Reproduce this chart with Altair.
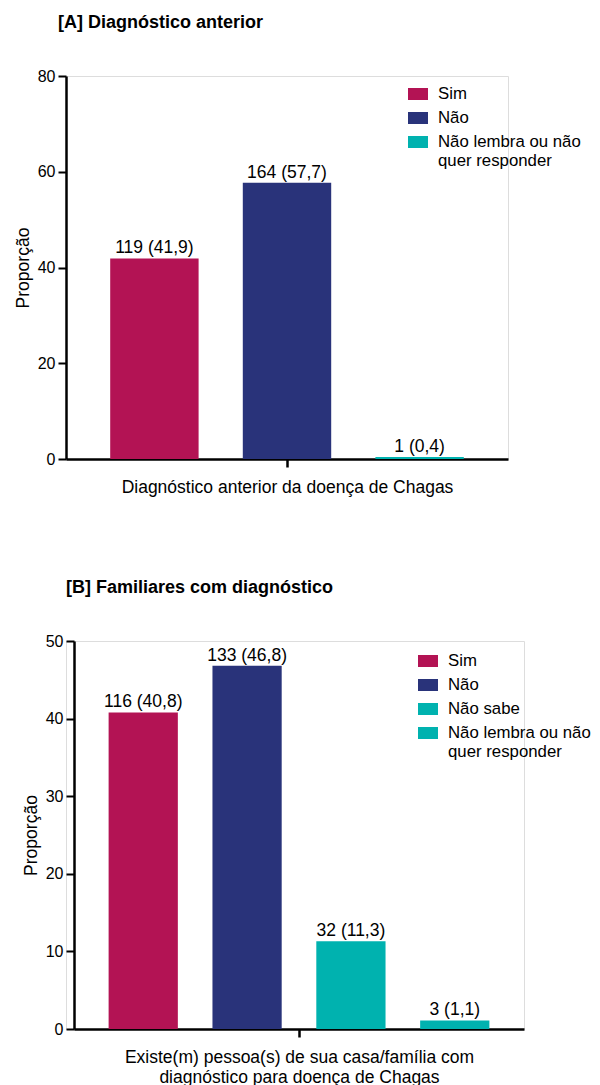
import altair as alt
import pandas as pd

FONT = "Liberation Sans"

# Panel A data
a_cats = ["Sim", "Não", "Não lembra ou não quer responder"]
a_values = [41.9, 57.7, 0.4]
a_labels = ["119 (41,9)", "164 (57,7)", "1 (0,4)"]
a_colors = ["#B31354", "#29337A", "#00B2AF"]

# Panel B data
b_cats = ["Sim", "Não", "Não sabe", "Não lembra ou não quer responder "]
b_values = [40.8, 46.8, 11.3, 1.1]
b_labels = ["116 (40,8)", "133 (46,8)", "32 (11,3)", "3 (1,1)"]
b_colors = ["#B31354", "#29337A", "#00B2AF", "#00B2AF"]

label_expr = ("indexof(datum.label, 'Não lembra') == 0 ? "
              "['Não lembra ou não', 'quer responder'] : datum.label")

SWATCH = "M-1,-0.6H1V0.6H-1Z"


def panel(title, cats, values, labels, colors, width, height, ymax, ystep,
          xtitle, leg_x, leg_y, x_range=None, y_offset=0, title_dx=0):
    df = pd.DataFrame({"group": "g", "cat": cats, "value": values, "label": labels})
    xscale = alt.Scale(paddingInner=0, paddingOuter=0)
    if x_range is not None:
        xscale = alt.Scale(paddingInner=0, paddingOuter=0, range=x_range)
    x = alt.X("group:N", scale=xscale,
              axis=alt.Axis(labels=False, title=xtitle, titleFontSize=17.5,
                            titleFontWeight="normal", titleFont=FONT,
                            titleColor="black", titleLineHeight=20,
                            titlePadding=10, domainColor="black", domainWidth=2.5,
                            tickColor="black", tickWidth=2.5, tickSize=8))
    xo = alt.XOffset("cat:N", sort=cats,
                     scale=alt.Scale(domain=cats, paddingInner=1 / 3, paddingOuter=1 / 3))
    y = alt.Y("value:Q",
              scale=alt.Scale(domain=[0, ymax], nice=False),
              axis=alt.Axis(title="Proporção", values=list(range(0, ymax + 1, ystep)),
                            grid=False, titleFontSize=17.5, titleFontWeight="normal",
                            titleFont=FONT, titleColor="black", titlePadding=5,
                            labelFontSize=16, labelFont=FONT, labelColor="black",
                            labelPadding=3, domainColor="black", domainWidth=2.5,
                            tickColor="black", tickWidth=2, tickSize=8,
                            offset=y_offset))
    bars = alt.Chart(df).mark_bar().encode(
        x=x, xOffset=xo, y=y,
        color=alt.Color("cat:N",
                        scale=alt.Scale(domain=cats, range=colors),
                        legend=alt.Legend(title=None, orient="none", legendX=leg_x,
                                          legendY=leg_y, symbolType=SWATCH,
                                          symbolSize=400, symbolStrokeWidth=0,
                                          symbolOpacity=1,
                                          labelFontSize=16.8, labelFont=FONT,
                                          labelColor="black", labelOffset=10,
                                          rowPadding=5, labelLimit=400,
                                          labelExpr=label_expr)),
    )
    text = alt.Chart(df).mark_text(baseline="bottom", dy=-1, fontSize=17.5,
                                   font=FONT, color="black").encode(
        x=x, xOffset=xo, y=y, text="label:N")
    return alt.layer(bars, text).properties(
        width=width, height=height,
        title=alt.TitleParams(title, anchor="start", frame="group", dx=title_dx,
                              fontSize=18, font=FONT, fontWeight="bold",
                              offset=36, color="black"),
    )


top = panel("[A] Diagnóstico anterior", a_cats, a_values, a_labels, a_colors,
            442, 383, 80, 20, "Diagnóstico anterior da doença de Chagas",
            342, 8, title_dx=-8)
bottom = panel("[B] Familiares com diagnóstico", b_cats, b_values, b_labels, b_colors,
               458, 388, 50, 10,
               ["Existe(m) pessoa(s) de sua casa/família com",
                "diagnóstico para doença de Chagas"],
               352, 10, x_range=[8, 458], y_offset=-8, title_dx=0)

chart = alt.vconcat(top, bottom, spacing=81).resolve_scale(
    color="independent", xOffset="independent"
).properties(
    padding={"left": 5, "top": 5, "right": 0, "bottom": 0}
).configure_view(stroke=None).configure(font=FONT)

chart.save("out.html", embed_options={"renderer": "svg", "actions": False})
